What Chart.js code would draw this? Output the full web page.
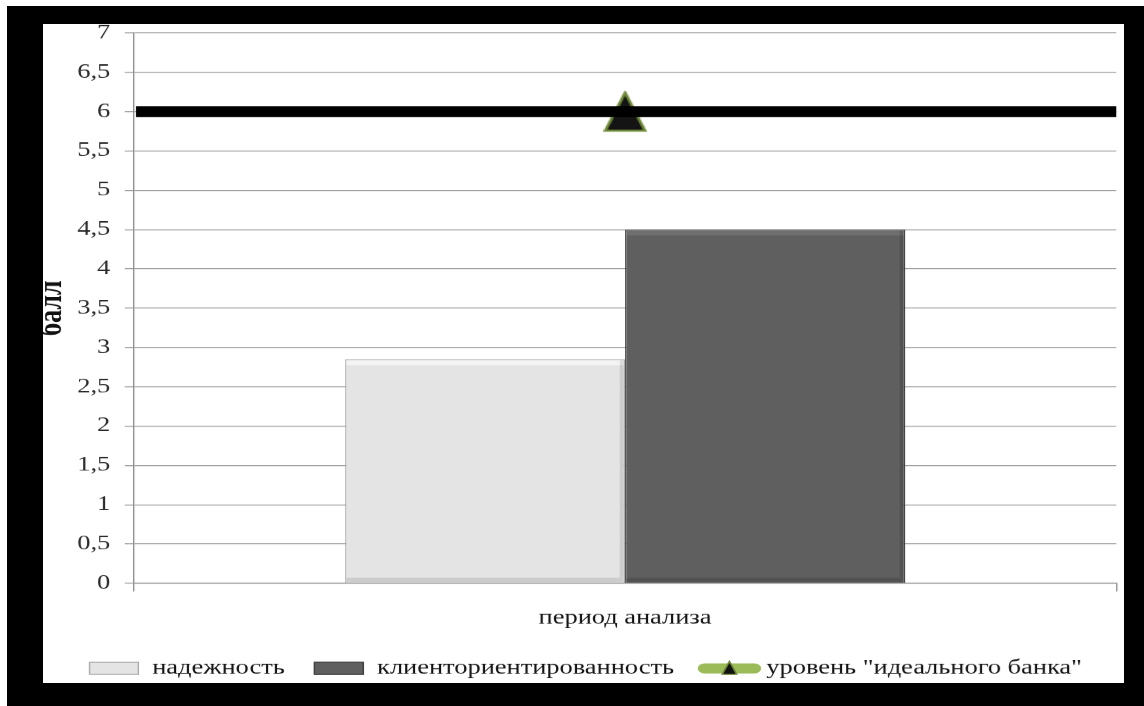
<!DOCTYPE html>
<html>
<head>
<meta charset="utf-8">
<script src="https://cdn.jsdelivr.net/npm/chart.js@4"></script>
<style>
  body { margin: 0; background: #fff; }
  #frame { position: absolute; left: 7px; top: 6px; width: 1137px; height: 700px; background: #000; }
  #paper { position: absolute; left: 43px; top: 24px; width: 1081px; height: 659px; background: #fff; overflow: hidden; }
  /* the original picture is stretched sideways, so the chart is too */
  #box { position: absolute; left: 0; top: 0; width: 819px; height: 664px; transform: scaleX(1.32); transform-origin: 0 0; }
</style>
</head>
<body>
<div id="frame"></div>
<div id="paper"><div id="box"><canvas id="bankChart"></canvas></div></div>
<script>
var categories = [''];
var seriesNames = ['надежность', 'клиенториентированность', 'уровень "идеального банка"'];
var reliability = [2.85];
var clientOrientation = [4.5];
var idealLevel = [6];
var yTickLabels = ['0', '0,5', '1', '1,5', '2', '2,5', '3', '3,5', '4', '4,5', '5', '5,5', '6', '6,5', '7'];

// triangle marker like the excel one (narrow, it gets stretched)
function makeTriangle() {
    var c = document.createElement('canvas');
    c.width = 33;
    c.height = 42;
    var g = c.getContext('2d');
    g.beginPath();
    g.moveTo(16.5, 2);
    g.lineTo(1.5, 40);
    g.lineTo(31.5, 40);
    g.closePath();
    g.fillStyle = '#141414';
    g.fill();
    g.lineWidth = 2.2;
    g.strokeStyle = '#6e8838';
    g.stroke();
    return c;
}

var serif = "'Liberation Serif', 'Times New Roman', serif";

var bevelPlugin = {
    id: 'bevel',
    afterDatasetsDraw: function (chart) {
        var ctx = chart.ctx;
        var looks = [
            { top: 'rgba(255,255,255,0.55)', bottom: 'rgba(0,0,0,0.1)' },
            { top: 'rgba(255,255,255,0.1)', bottom: 'rgba(0,0,0,0.13)' },
        ];
        [0, 1].forEach(function (i) {
            chart.getDatasetMeta(i).data.forEach(function (bar) {
                var p = bar.getProps(['x', 'y', 'width', 'base'], true);
                var l = p.x - p.width / 2;
                ctx.save();
                ctx.fillStyle = looks[i].top;
                ctx.fillRect(l + 1, p.y + 1, p.width - 2, 5);
                ctx.fillStyle = looks[i].bottom;
                ctx.fillRect(l + 1, p.base - 5, p.width - 2, 4);
                ctx.fillRect(l + p.width - 4, p.y + 1, 3, p.base - p.y - 6);
                ctx.restore();
            });
        });
    },
};

var idealLinePlugin = {
    id: 'idealLine',
    afterDatasetsDraw: function (chart) {
        var ctx = chart.ctx;
        var area = chart.chartArea;
        var y = chart.scales.y.getPixelForValue(idealLevel[0]);
        ctx.save();
        ctx.fillStyle = '#000';
        ctx.fillRect(area.left + 1.5, y - 5.5, area.right - area.left - 1.5, 11);
        ctx.restore();
    },
    // legend glyphs drawn by hand, a bit closer to the text than Chart.js puts them
    afterDraw: function (chart) {
        var ctx = chart.ctx;
        var legend = chart.legend;
        legend.legendItems.forEach(function (it, j) {
            var hb = legend.legendHitBoxes[j];
            var cy = hb.top + hb.height / 2;
            var x0 = hb.left + 5;
            ctx.save();
            if (it.datasetIndex < 2) {
                var ds = chart.data.datasets[it.datasetIndex];
                ctx.fillStyle = ds.backgroundColor;
                ctx.fillRect(x0, cy - 6.5, 38, 13);
                ctx.strokeStyle = ds.borderColor;
                ctx.lineWidth = 1;
                ctx.strokeRect(x0 + 0.5, cy - 6, 37, 12);
            } else {
                var a = x0 + 1;
                var b = x0 + 39;
                ctx.strokeStyle = '#9bbb59';
                ctx.lineWidth = 10;
                ctx.lineCap = 'round';
                ctx.beginPath();
                ctx.moveTo(a, cy);
                ctx.lineTo(b, cy);
                ctx.stroke();
                var cx = (a + b) / 2;
                ctx.beginPath();
                ctx.moveTo(cx, cy - 7);
                ctx.lineTo(cx - 5.5, cy + 6);
                ctx.lineTo(cx + 5.5, cy + 6);
                ctx.closePath();
                ctx.fillStyle = '#111';
                ctx.fill();
                ctx.lineWidth = 1.2;
                ctx.strokeStyle = '#6e8838';
                ctx.stroke();
            }
            ctx.restore();
        });
    }
};

var ctx = document.getElementById('bankChart').getContext('2d');

var data = {
    labels: categories,
    datasets: [
        {
            type: 'bar',
            label: seriesNames[0],
            data: reliability,
            backgroundColor: '#e4e4e4',
            borderColor: '#a9a9a9',
            borderWidth: 1,
            categoryPercentage: 0.57,
            barPercentage: 1.0,
        },
        {
            type: 'bar',
            label: seriesNames[1],
            data: clientOrientation,
            backgroundColor: '#5f5f5f',
            borderColor: '#3c3c3c',
            borderWidth: 1,
            categoryPercentage: 0.57,
            barPercentage: 1.0,
        },
        {
            type: 'line',
            label: seriesNames[2],
            data: idealLevel,
            borderColor: '#9bbb59',
            backgroundColor: '#9bbb59',
            showLine: false,
            pointStyle: makeTriangle(),
            pointRadius: 5,
        },
    ],
};

var options = {
    responsive: true,
    maintainAspectRatio: false,
    animation: false,
    devicePixelRatio: 1.32,
    layout: {
        padding: { top: 9, right: 2.3, left: 0, bottom: 0 },
    },
    scales: {
        x: {
            grid: {
                display: true,
                drawOnChartArea: false,
                drawTicks: true,
                tickLength: 8,
                color: '#8a8a8a',
            },
            border: { color: '#8a8a8a' },
            ticks: { display: true, font: { family: serif, size: 20 } },
            title: {
                display: true,
                text: 'период анализа',
                color: '#111',
                font: { family: serif, size: 20 },
                padding: { top: 0, bottom: 11 },
            },
            afterFit: function (scale) {
                scale.height = 58;
                scale.paddingLeft = 0;
                scale.paddingRight = 0;
            },
        },
        y: {
            min: 0,
            max: 7,
            grid: {
                color: '#9a9a9a',
                tickLength: 7,
            },
            border: { color: '#8a8a8a' },
            ticks: {
                stepSize: 0.5,
                padding: 11,
                color: '#2a2a2a',
                font: { family: serif, size: 20 },
                callback: function (value, index) {
                    return yTickLabels[index];
                },
            },
            title: {
                display: true,
                text: 'балл',
                color: '#111',
                font: { family: serif, size: 26, weight: 'bold', lineHeight: 0.55 },
                padding: 0,
            },
            afterFit: function (scale) {
                scale.width = 68.9;
                scale.paddingTop = 0;
                scale.paddingBottom = 0;
            },
        },
    },
    plugins: {
        tooltip: { enabled: false },
        legend: {
            position: 'bottom',
            labels: {
                boxWidth: 43,
                boxHeight: 13,
                padding: 17,
                color: '#111',
                font: { family: serif, size: 20 },
                sort: function (a, b) { return a.datasetIndex - b.datasetIndex; },
                generateLabels: function (chart) {
                    var items = Chart.defaults.plugins.legend.labels.generateLabels(chart);
                    items.forEach(function (it) {
                        it.fillStyle = 'rgba(0,0,0,0)';
                        it.strokeStyle = 'rgba(0,0,0,0)';
                        it.lineWidth = 0;
                    });
                    return items;
                },
            },
        },
    },
};

var myChart = new Chart(ctx, {
    data: data,
    options: options,
    plugins: [bevelPlugin, idealLinePlugin],
});
</script>
</body>
</html>
